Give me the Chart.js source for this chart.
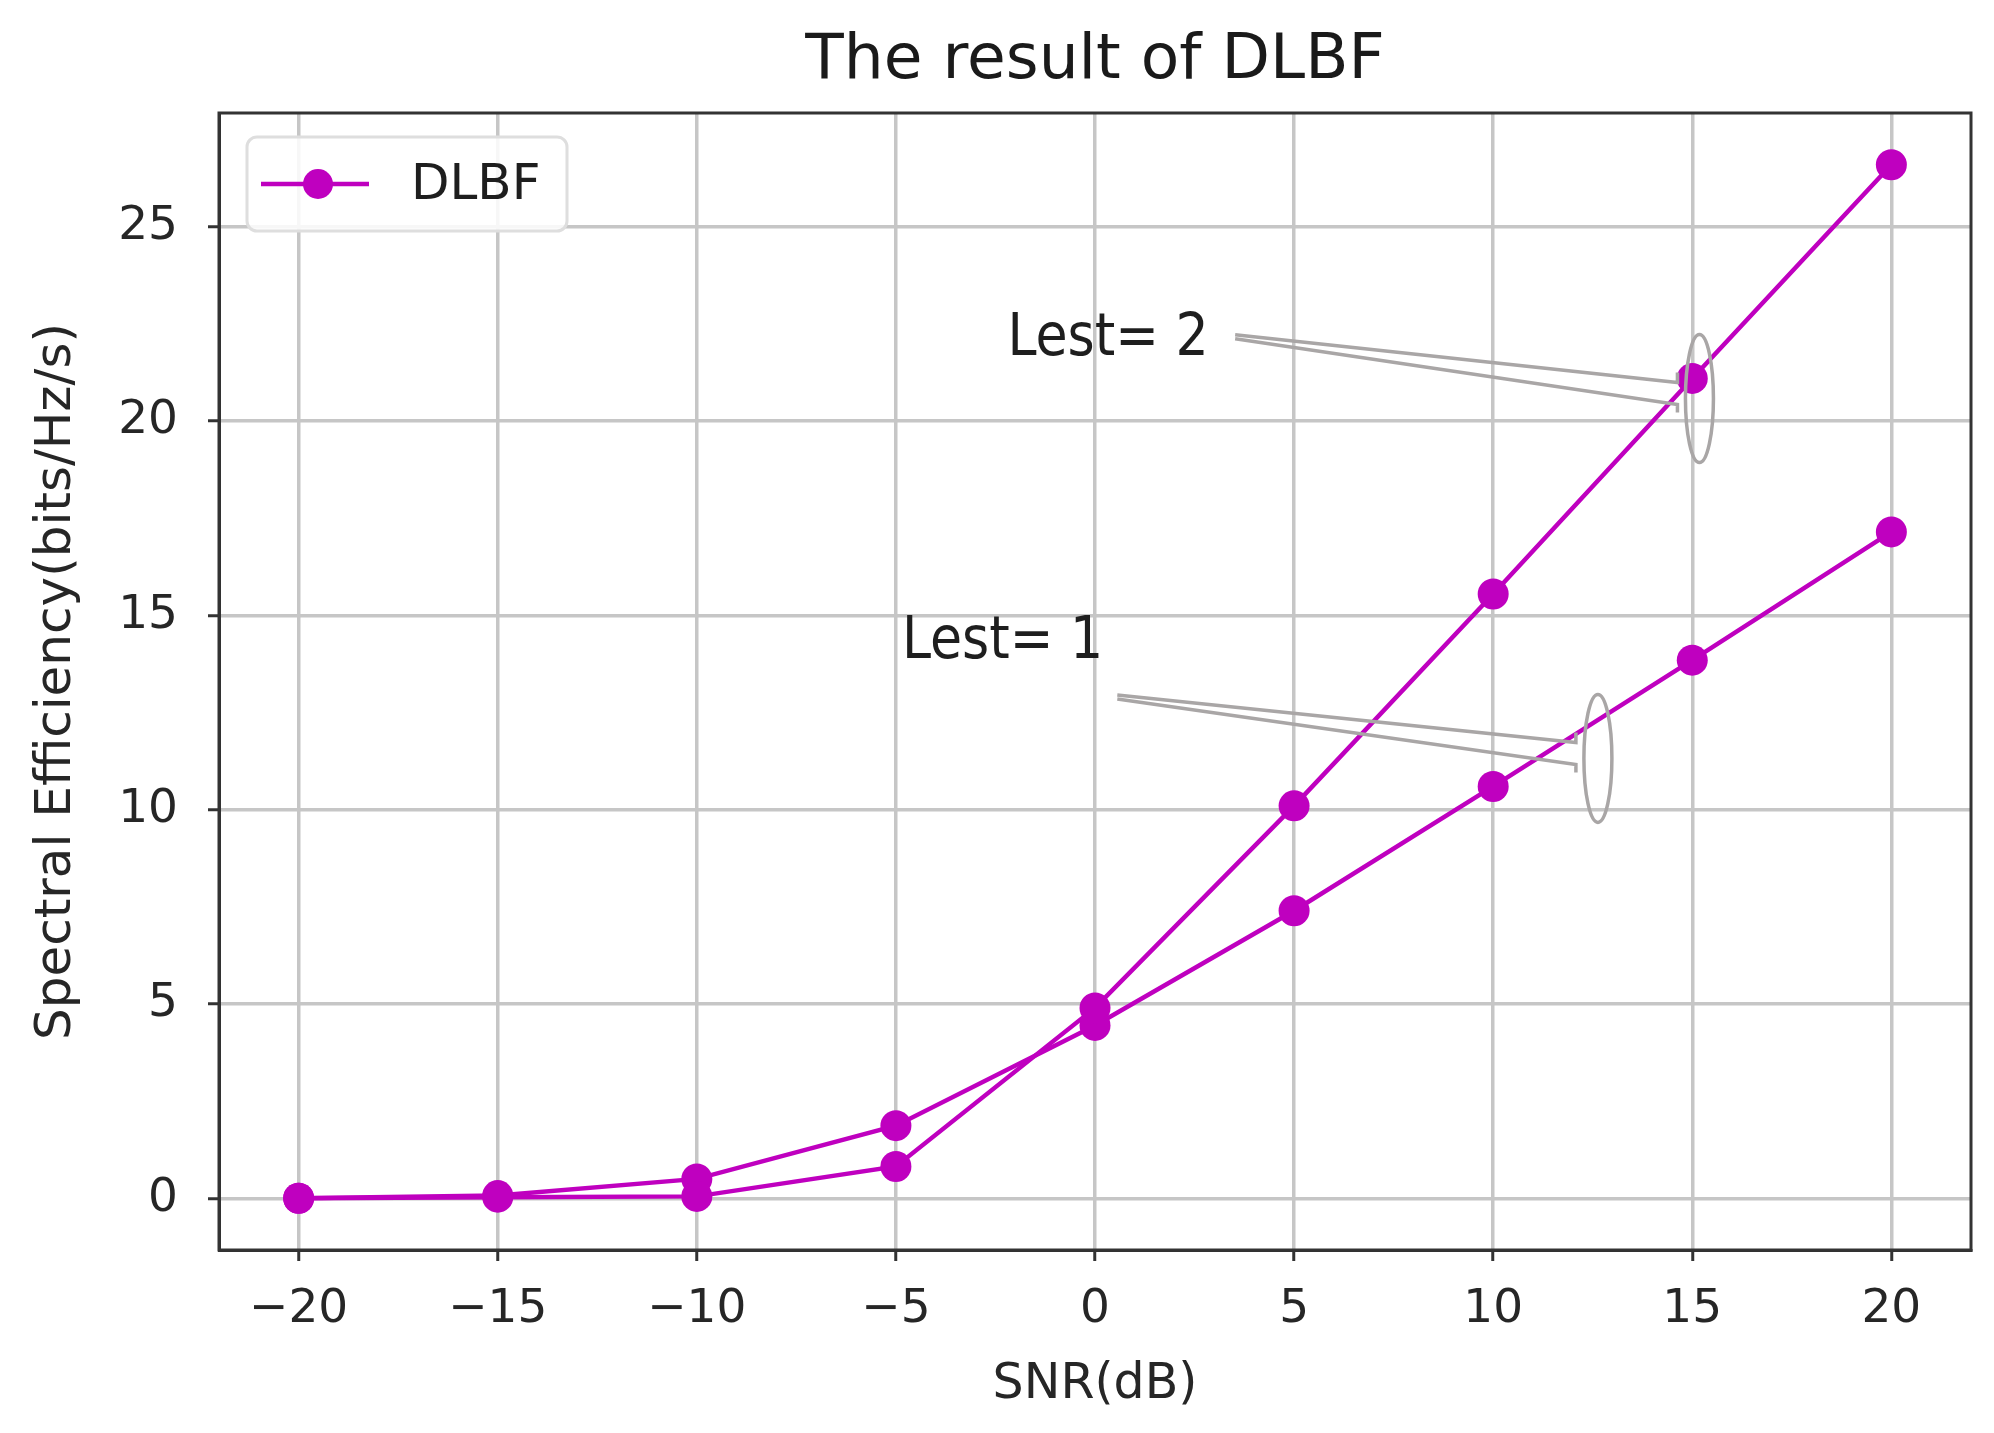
<!DOCTYPE html>
<html>
<head>
<meta charset="utf-8">
<script src="https://cdn.jsdelivr.net/npm/chart.js@4.4.0/dist/chart.umd.min.js"></script>
<style>
  html, body { margin: 0; padding: 0; background: #ffffff; }
  #wrap { width: 1994px; height: 1433px; }
</style>
</head>
<body>
<div id="wrap"><canvas id="chart" width="1994" height="1433"></canvas></div>
<script>
// values
const snrValues = [-20, -15, -10, -5, 0, 5, 10, 15, 20];
const lest2Values = [0.0, 0.03, 0.05, 0.82, 4.9, 10.1, 15.55, 21.1, 26.6];
const lest1Values = [0.0, 0.07, 0.5, 1.87, 4.45, 7.4, 10.6, 13.85, 17.15];
const xTicks = [-20, -15, -10, -5, 0, 5, 10, 15, 20];
const yTicks = [0, 5, 10, 15, 20, 25];
const chartTitle = 'The result of DLBF';

// callout annotations (data coordinates)
const calloutLabels = ['Lest= 2', 'Lest= 1'];
const calloutTextAt = [[-2.2, 22.1], [-4.85, 14.3]];
const calloutFrom = [[3.52, 22.17], [0.56, 12.9]];
const calloutTarget = [[15.18, 20.58], [12.63, 11.32]];

const MAGENTA = '#bf00bf';
const FONT = 'DejaVu Sans';

const toPoints = (xs, ys) => xs.map((x, i) => ({ x: x, y: ys[i] }));
const minusSign = v => String(v).replace('-', '\u2212');

const frameAndNotes = {
    id: 'frameAndNotes',
    afterDatasetsDraw(chart) {
        const { ctx, chartArea: a, scales: { x, y } } = chart;
        ctx.save();

        // title, centred over the plot area like matplotlib
        ctx.fillStyle = '#1a1a1a';
        ctx.font = '63px "' + FONT + '"';
        ctx.textAlign = 'center';
        ctx.textBaseline = 'middle';
        ctx.fillText(chartTitle, (a.left + a.right) / 2, 62);

        // callouts
        ctx.strokeStyle = '#a9a6a6';
        ctx.lineWidth = 3.5;
        calloutLabels.forEach((label, i) => {
            const sx = x.getPixelForValue(calloutFrom[i][0]);
            const sy = y.getPixelForValue(calloutFrom[i][1]);
            const cx = x.getPixelForValue(calloutTarget[i][0]);
            const cy = y.getPixelForValue(calloutTarget[i][1]);
            ctx.beginPath();
            ctx.moveTo(sx, sy - 2);
            ctx.lineTo(cx - 22, cy - 16);
            ctx.lineTo(cx - 22, cy - 26);
            ctx.moveTo(sx, sy + 2);
            ctx.lineTo(cx - 22, cy + 6);
            ctx.lineTo(cx - 22, cy + 14);
            ctx.stroke();
            ctx.beginPath();
            ctx.ellipse(cx, cy, 14, 64, 0, 0, Math.PI * 2);
            ctx.stroke();

            ctx.fillStyle = '#1e1e1e';
            ctx.font = '58px "Liberation Sans Narrow", "DejaVu Sans Condensed", sans-serif';
            ctx.textAlign = 'left';
            ctx.textBaseline = 'middle';
            ctx.fillText(label, x.getPixelForValue(calloutTextAt[i][0]), y.getPixelForValue(calloutTextAt[i][1]));
        });

        // top and right spines
        ctx.strokeStyle = '#333333';
        ctx.lineWidth = 3;
        ctx.strokeRect(a.left, a.top, a.right - a.left, a.bottom - a.top);

        // legend box
        const lx = a.left + 28, ly = a.top + 24, lw = 320, lh = 94;
        ctx.fillStyle = 'rgba(255,255,255,0.85)';
        ctx.strokeStyle = '#dedede';
        ctx.lineWidth = 3;
        ctx.beginPath();
        ctx.roundRect(lx, ly, lw, lh, 10);
        ctx.fill();
        ctx.stroke();

        const my = ly + lh / 2;
        ctx.strokeStyle = MAGENTA;
        ctx.lineWidth = 4.5;
        ctx.beginPath();
        ctx.moveTo(lx + 14, my);
        ctx.lineTo(lx + 122, my);
        ctx.stroke();
        ctx.fillStyle = MAGENTA;
        ctx.beginPath();
        ctx.arc(lx + 71, my, 15, 0, Math.PI * 2);
        ctx.fill();

        ctx.fillStyle = '#1e1e1e';
        ctx.font = '50px "' + FONT + '"';
        ctx.textAlign = 'left';
        ctx.textBaseline = 'middle';
        ctx.fillText('DLBF', lx + 164, my + 2);

        ctx.restore();
    }
};

new Chart(document.getElementById('chart').getContext('2d'), {
    type: 'line',
    data: {
        datasets: [{
            label: 'DLBF',
            data: toPoints(snrValues, lest2Values),
            borderColor: MAGENTA,
            backgroundColor: MAGENTA,
            borderWidth: 4.5,
            pointRadius: 15.5,
            pointBorderWidth: 0,
            pointBackgroundColor: MAGENTA,
            tension: 0
        }, {
            label: 'DLBF',
            data: toPoints(snrValues, lest1Values),
            borderColor: MAGENTA,
            backgroundColor: MAGENTA,
            borderWidth: 4.5,
            pointRadius: 15.5,
            pointBorderWidth: 0,
            pointBackgroundColor: MAGENTA,
            tension: 0
        }]
    },
    options: {
        responsive: false,
        animation: false,
        layout: { padding: { left: 0, right: 23, top: 113, bottom: 0 } },
        plugins: {
            legend: { display: false },
            tooltip: { enabled: false },
            title: { display: false }
        },
        scales: {
            x: {
                type: 'linear',
                min: -22,
                max: 22,
                afterBuildTicks: scale => { scale.ticks = xTicks.map(v => ({ value: v })); },
                afterFit: scale => { scale.height = 183; },
                grid: { color: '#c6c6c6', lineWidth: 3.5, tickColor: '#333333', tickWidth: 3, tickLength: 11 },
                border: { display: true, color: '#333333', width: 3 },
                ticks: {
                    color: '#262626',
                    font: { family: FONT, size: 47 },
                    padding: 21,
                    maxRotation: 0,
                    callback: minusSign
                },
                title: {
                    display: true,
                    text: 'SNR(dB)',
                    color: '#262626',
                    font: { family: FONT, size: 49 },
                    padding: { top: 4, bottom: 18 }
                }
            },
            y: {
                type: 'linear',
                min: -1.33,
                max: 27.93,
                afterBuildTicks: scale => { scale.ticks = yTicks.map(v => ({ value: v })); },
                afterFit: scale => { scale.width = 219; },
                grid: { color: '#c6c6c6', lineWidth: 3.5, tickColor: '#333333', tickWidth: 3, tickLength: 11 },
                border: { display: true, color: '#333333', width: 3 },
                ticks: {
                    color: '#262626',
                    font: { family: FONT, size: 47 },
                    padding: 30,
                    callback: minusSign
                },
                title: {
                    display: true,
                    text: 'Spectral Efficiency(bits/Hz/s)',
                    color: '#262626',
                    font: { family: FONT, size: 50 },
                    padding: { top: 27, bottom: 4 }
                }
            }
        }
    },
    plugins: [frameAndNotes]
});
</script>
</body>
</html>
